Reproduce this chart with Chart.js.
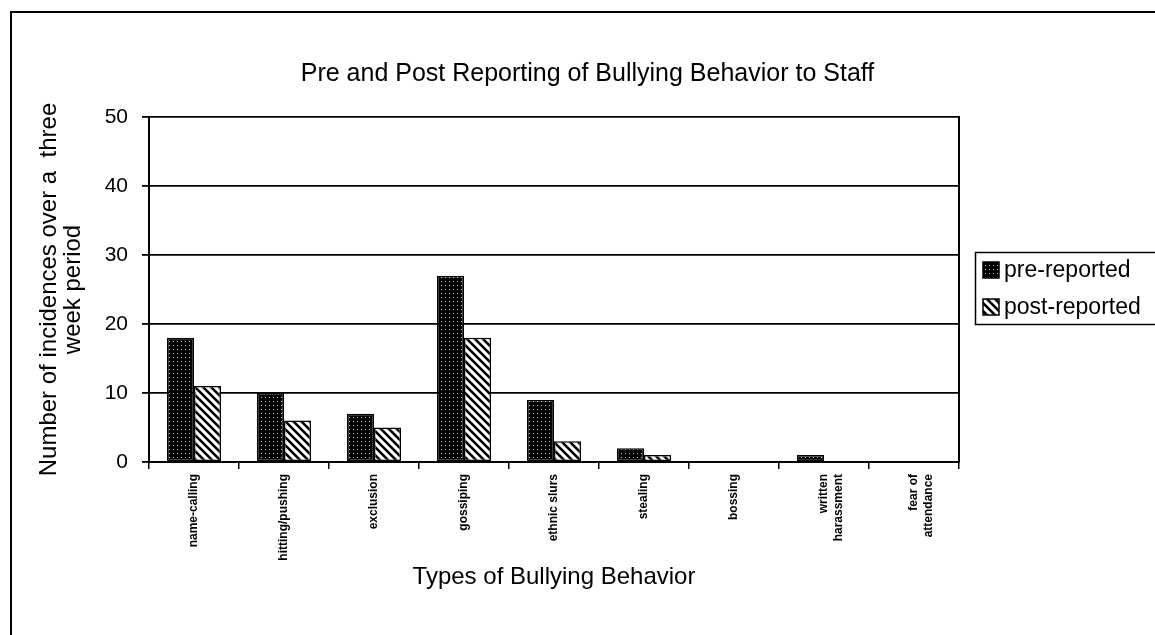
<!DOCTYPE html>
<html>
<head>
<meta charset="utf-8">
<script src="https://cdn.jsdelivr.net/npm/chart.js@4"></script>
<style>
  html, body { margin: 0; padding: 0; background: #fff; }
  #wrap { width: 1155px; height: 635px; }
</style>
</head>
<body>
<div id="wrap"><canvas id="chart" width="1155" height="635"></canvas></div>
<script>
// data
const categories = ['name-calling', 'hitting/pushing', 'exclusion', 'gossiping', 'ethnic slurs',
    'stealing', 'bossing', ['written', 'harassment'], ['fear of', 'attendance']];
const preReported = [18, 10, 7, 27, 9, 2, 0, 1, 0];
const postReported = [11, 6, 5, 18, 3, 1, 0, 0, 0];
const yTicks = [0, 10, 20, 30, 40, 50];

const FONT = 'Arial, "Liberation Sans", sans-serif';

// dotted black fill for pre-reported
function dotPattern() {
    const c = document.createElement('canvas');
    c.width = 4; c.height = 4;
    const g = c.getContext('2d');
    g.fillStyle = '#000';
    g.fillRect(0, 0, 4, 4);
    g.fillStyle = '#c8c8c8';
    g.fillRect(1, 1, 1, 1);
    return g.createPattern(c, 'repeat');
}

// white with "\" stripes for post-reported
function stripePattern() {
    const c = document.createElement('canvas');
    c.width = 8; c.height = 8;
    const g = c.getContext('2d');
    g.fillStyle = '#fff';
    g.fillRect(0, 0, 8, 8);
    g.strokeStyle = '#000';
    g.lineWidth = 2.6;
    for (const k of [-8, 0, 8]) {
        g.beginPath();
        g.moveTo(k - 1, -1);
        g.lineTo(k + 9, 9);
        g.stroke();
    }
    return g.createPattern(c, 'repeat');
}

const preFill = dotPattern();
const postFill = stripePattern();

// outer frame and the boxed legend
const framePlugin = {
    id: 'frame',
    afterDraw(chart) {
        const ctx = chart.ctx;
        ctx.save();
        ctx.strokeStyle = '#000';
        ctx.lineWidth = 2;
        ctx.beginPath();
        ctx.moveTo(11, 640);
        ctx.lineTo(11, 12);
        ctx.lineTo(1160, 12);
        ctx.stroke();

        // legend
        ctx.lineWidth = 1.5;
        ctx.strokeRect(975.5, 252.5, 200, 72);
        ctx.font = '23px ' + FONT;
        ctx.textBaseline = 'middle';
        ctx.textAlign = 'left';
        chart.data.datasets.forEach((ds, i) => {
            const y = 270 + i * 37;
            ctx.fillStyle = ds.backgroundColor;
            ctx.fillRect(983, y - 8, 16, 16);
            ctx.lineWidth = 1.5;
            ctx.strokeRect(983, y - 8, 16, 16);
            ctx.fillStyle = '#000';
            ctx.fillText(ds.label, 1004, y + 1);
        });
        ctx.restore();
    }
};

new Chart(document.getElementById('chart'), {
    type: 'bar',
    data: {
        labels: categories,
        datasets: [{
            label: 'pre-reported',
            data: preReported,
            backgroundColor: preFill,
            borderColor: '#000',
            borderWidth: 1.5,
            borderSkipped: false
        }, {
            label: 'post-reported',
            data: postReported,
            backgroundColor: postFill,
            borderColor: '#000',
            borderWidth: 1.5,
            borderSkipped: false
        }]
    },
    options: {
        responsive: false,
        animation: false,
        datasets: {
            bar: { categoryPercentage: 0.6, barPercentage: 1.0 }
        },
        layout: {
            padding: { top: 12, left: 20, right: 0, bottom: 40 }
        },
        plugins: {
            legend: { display: false },
            tooltip: { enabled: false },
            title: {
                display: true,
                text: 'Pre and Post Reporting of Bullying Behavior to Staff',
                color: '#000',
                font: { family: FONT, size: 25, weight: 'normal' },
                padding: { top: 47, bottom: 28 }
            }
        },
        scales: {
            x: {
                grid: {
                    display: true,
                    offset: true,
                    drawOnChartArea: false,
                    drawTicks: true,
                    tickLength: 7,
                    color: '#000',
                    lineWidth: 1.5
                },
                border: { display: true, color: '#000', width: 2 },
                ticks: {
                    autoSkip: false,
                    minRotation: 90,
                    maxRotation: 90,
                    padding: 5,
                    color: '#000',
                    font: { family: FONT, size: 12, weight: 'bold' }
                },
                title: {
                    display: true,
                    text: 'Types of Bullying Behavior',
                    color: '#000',
                    font: { family: FONT, size: 24 },
                    padding: { top: 0, bottom: 3 }
                },
                afterFit(scale) { scale.height = 133; }
            },
            y: {
                min: 0,
                max: 50,
                afterBuildTicks(scale) {
                    scale.ticks = yTicks.map(v => ({ value: v }));
                },
                grid: {
                    color: '#000',
                    lineWidth: 1.8,
                    tickLength: 7
                },
                border: { display: true, color: '#000', width: 2 },
                ticks: {
                    padding: 14,
                    color: '#000',
                    font: { family: FONT, size: 21 }
                },
                title: {
                    display: true,
                    text: ['Number of incidences over a  three', 'week period'],
                    color: '#000',
                    font: { family: FONT, size: 24, lineHeight: 1.0 },
                    padding: { top: 17, bottom: 0 }
                },
                afterFit(scale) { scale.width = 129; }
            },
            // empty right-hand axis: draws the plot's right edge and keeps room for the legend
            y2: {
                position: 'right',
                min: 0,
                max: 50,
                grid: { display: false },
                ticks: { display: false },
                border: { display: true, color: '#000', width: 2 },
                afterFit(scale) { scale.width = 196; }
            }
        }
    },
    plugins: [framePlugin]
});
</script>
</body>
</html>
